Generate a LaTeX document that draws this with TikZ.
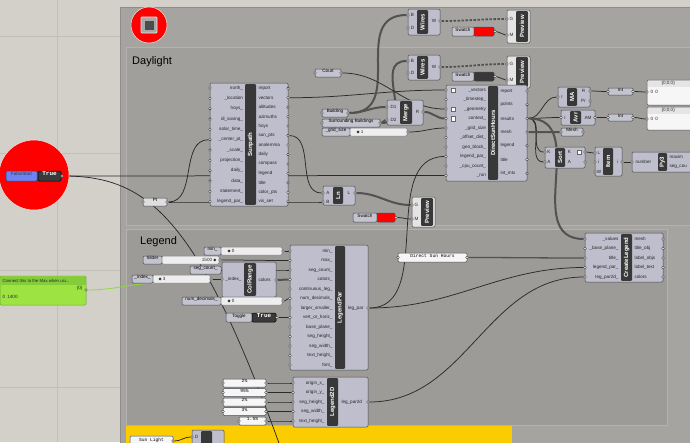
\documentclass[tikz,border=0pt]{standalone}
\usepackage{fontspec}
\setmainfont{Liberation Sans}
\newfontfamily\monof{Liberation Mono}
\newfontfamily\djv{DejaVu Sans}
\usetikzlibrary{fit}
\pgfdeclarelayer{grp}\pgfdeclarelayer{wl}
\pgfsetlayers{grp,wl,main}
\definecolor{canvas}{HTML}{D3D0CA}
\definecolor{gridc}{HTML}{C2BFB9}
\definecolor{grpouter}{HTML}{A5A4A1}
\definecolor{grpedge}{HTML}{8E8D8A}
\definecolor{grpday}{HTML}{A09F9C}
\definecolor{grpleg}{HTML}{9C9B98}
\definecolor{grpedge2}{HTML}{B3B2AE}
\definecolor{compf}{HTML}{BEBECC}
\definecolor{compd}{HTML}{4A4A52}
\definecolor{stripc}{HTML}{383838}
\definecolor{wirec}{HTML}{2A2A2A}
\definecolor{thickw}{HTML}{525252}
\definecolor{panelf}{HTML}{F6F6F6}
\definecolor{sliderf}{HTML}{EEEEEE}
\definecolor{paramf}{HTML}{C4C4CF}
\definecolor{yel}{HTML}{FBCD00}
\definecolor{grn}{HTML}{9DE342}
\definecolor{grnh}{HTML}{84CC3A}
\definecolor{grnedge}{HTML}{6AA52E}
\definecolor{fsblue}{HTML}{6E82F2}
\definecolor{prevf}{HTML}{E4E4E4}
\definecolor{togdark}{HTML}{3A3A3A}
\definecolor{gwc}{HTML}{8EDB3C}
\definecolor{btngray}{HTML}{A8A8A8}
\definecolor{ptfill}{HTML}{DEDEDE}
\tikzset{
 box/.style={inner sep=0pt, outer sep=0pt, rounded corners=1.2pt, line width=0.5pt},
 comp/.style={box, fill=compf, draw=compd},
 prev/.style={box, fill=prevf, draw=compd},
 strip/.style={inner sep=0pt, outer sep=0pt, rounded corners=1pt, fill=stripc, draw=none},
 stxt/.style={text=white, font=\fontsize{6}{6}\selectfont\bfseries, rotate=90, inner sep=0pt},
 plab/.style={font=\fontsize{4.6}{5}\selectfont, inner sep=0.3pt, text=black!85},
 port/.style={circle, fill=white, draw=black!80, line width=0.4pt, minimum size=2.6pt, inner sep=0pt},
 param/.style={box, fill=paramf, draw=compd, font=\fontsize{4.6}{5}\selectfont},
 panel/.style={box, fill=panelf, draw=compd},
 sliderbox/.style={box, fill=sliderf, draw=compd!70},
 mono/.style={font=\monof\fontsize{4.6}{5}\selectfont},
 wire/.style={draw=wirec, line width=0.75pt},
 bigwire/.style={draw=thickw, line width=2pt},
 treewire/.style={draw=thickw, line width=1.8pt, dash pattern=on 2.5pt off 1.5pt},
 gwire/.style={draw=gwc, line width=0.8pt},
 grpbox/.style={inner sep=0pt, outer sep=0pt, line width=0.6pt},
}
\newcommand\gcomp[9]{%
  \node[#1, fit={(#3,#4)(#5,#6)}] (#2) {};
  \node[strip, fit={(#7,#4+1.2)(#8,#6-1.2)}] (#2s) {};
  \node[stxt] (#2t) at (#2s.center) {#9};}
\newcommand\gport[3]{\node[port] (#1) at (#2,#3) {};}
\newcommand\glab[4]{\node[plab] (#1) at (#2,#3) {#4};}
\newcommand\dia{{\djv\fontsize{4}{4}\selectfont ◆}}
\begin{document}
\begin{tikzpicture}[x=1pt,y=-1pt]
\useasboundingbox (0,0) rectangle (690,442);
\begin{pgfonlayer}{grp}
\fill[canvas] (0,0) rectangle (690,442);
\draw[gridc, line width=0.5pt] (57.5,0) -- (57.5,442);
\foreach \gy in {36,153,270,387} \draw[gridc, line width=0.5pt] (0,\gy) -- (120,\gy);
\node[grpbox, fill=grpouter, draw=grpedge, fit={(120,7)(695,447)}] (gout) {};
\node[grpbox, fill=grpday, draw=grpedge2, fit={(126,47)(695,225)}] (gday) {};
\node[grpbox, fill=grpleg, draw=grpedge2, fit={(126,229)(667,425)}] (gleg) {};
\node[grpbox, fill=yel, fit={(126,426)(512,447)}] (gyel) {};
\end{pgfonlayer}

% top red button
\node[circle, fill=red, draw=white!85!gray, line width=0.5pt, minimum size=36pt, inner sep=0pt] (rc1) at (149,25) {};
\node[fill=btngray, draw=white!80!gray, line width=0.8pt, minimum size=16pt, inner sep=0pt, rounded corners=1pt] (rc1b) at (149,25) {};
\node[fill=black!70, minimum size=9pt, inner sep=0pt] (rc1c) at (149,25) {};
\node[anchor=base west, font=\fontsize{11}{12}\selectfont, inner sep=0pt] (tday) at (132,64) {Daylight};
\node[anchor=base west, font=\fontsize{11}{12}\selectfont, inner sep=0pt] (tleg) at (140,244) {Legend};

% Wires 1 / Preview 1
\gcomp{comp}{wi1}{408}{9}{440}{35}{417}{428}{Wires}
\gport{wi1B}{408}{15}\gport{wi1D}{408}{28}\gport{wi1W}{440}{21}
\glab{wi1Bl}{412.5}{15}{B}\glab{wi1Dl}{412.5}{28}{D}\glab{wi1Wl}{434}{21}{W}
\gcomp{prev}{pv1}{507}{10}{530}{43}{516}{528}{Preview}
\gport{pv1G}{507}{19}\gport{pv1M}{507}{35}
\glab{pv1Gl}{511.5}{19}{G}\glab{pv1Ml}{511.5}{35}{M}
\node[param, fit={(452,27)(474,36)}] (sw1) {Swatch};
\node[box, fill=red, draw=compd, fit={(474,27)(494,36)}] (sw1c) {};
\gport{sw1o}{495}{31.5}

% Wires 2 / Preview 2
\gcomp{comp}{wi2}{408}{55}{440}{80}{417}{428}{Wires}
\gport{wi2B}{408}{61}\gport{wi2D}{408}{73}\gport{wi2W}{440}{67}
\glab{wi2Bl}{412.5}{61}{B}\glab{wi2Dl}{412.5}{73}{D}\glab{wi2Wl}{434}{67}{W}
\gcomp{prev}{pv2}{507}{56}{530}{88}{516}{528}{Preview}
\gport{pv2G}{507}{64}\gport{pv2M}{507}{80}
\glab{pv2Gl}{511.5}{64}{G}\glab{pv2Ml}{511.5}{80}{M}
\node[param, fit={(452,72)(474,81)}] (sw2) {Swatch};
\node[box, fill=black!78, draw=compd, fit={(474,72)(494,81)}] (sw2c) {};
\gport{sw2o}{495}{76.5}

% params
\node[param, fit={(315,69)(341,77)}] (court) {Court};
\gport{courti}{315}{73}\gport{courto}{341}{73}
\node[param, fit={(322,109)(348,117)}] (bld) {Building};
\gport{bldi}{322}{113}\gport{bldo}{348}{113}
\node[param, fit={(322,119)(380,127)}] (sb) {Surrounding Buildings};
\gport{sbi}{322}{123}\gport{sbo}{380}{123}
\node[param, fit={(322,128)(350,136)}] (gsl) {\_grid\_size};
\node[sliderbox, fit={(350,128)(407,136)}] (gss) {};
\node[plab, anchor=west] (gst) at (356,132) {\dia\ 1};
\gport{gso}{408}{132}

% Merge
\gcomp{comp}{mrg}{387}{100}{423}{125}{400}{412}{Merge}
\gport{mD1}{387}{107}\gport{mD2}{387}{120}\gport{mR}{423}{112}
\glab{mD1l}{393.5}{107}{D1}\glab{mD2l}{393.5}{120}{D2}\glab{mRl}{417.5}{112}{R}

% Sunpath
\gcomp{comp}{sp}{210}{83}{288}{206}{245}{256}{Sunpath}
\foreach \lab [count=\i] in {north\_,\_location,hoys\_,dl\_saving\_,solar\_time\_,\_center\_pt\_,\_scale\_,projection\_,daily\_,data\_,statement\_,legend\_par\_}{%
 \pgfmathsetmacro\yy{88+10.34*(\i-1)}
 \node[plab,anchor=east] (spl\i) at (243.5,\yy) {\lab};
 \node[port] (spi\i) at (210,\yy) {};}
\foreach \lab [count=\i] in {report,vectors,altitudes,azimuths,hoys,sun\_pts,analemma,daily,compass,legend,title,color\_pts,vis\_set}{%
 \pgfmathsetmacro\yy{88.3+9.45*(\i-1)}
 \node[plab,anchor=west] (spm\i) at (258,\yy) {\lab};
 \node[port] (spo\i) at (288,\yy) {};}

% DirectSunHours
\gcomp{comp}{dsh}{446}{85}{527}{181}{488}{498}{DirectSunHours}
\foreach \lab [count=\i] in {\_vectors,\_timestep\_,\_geometry,context\_,\_grid\_size,\_offset\_dist\_,geo\_block\_,legend\_par\_,\_cpu\_count\_,\_run}{%
 \pgfmathsetmacro\yy{90+9.5*(\i-1)}
 \node[plab,anchor=east] (dsl\i) at (486.5,\yy) {\lab};
 \node[port] (dsi\i) at (446,\yy) {};}
\foreach \lab [count=\i] in {report,points,results,mesh,legend,title,int\_mtx}{%
 \pgfmathsetmacro\yy{91+13.7*(\i-1)}
 \node[plab,anchor=west] (dsm\i) at (500,\yy) {\lab};
 \node[port] (dso\i) at (527,\yy) {};}
\foreach \yy [count=\i] in {90,109,118.5}{%
 \node[fill=white, draw=black!60, line width=0.3pt, minimum size=4.5pt, inner sep=0pt] (dic\i) at (453,\yy) {};}

% Ln, Preview 3, Swatch 3, Pt
\gcomp{comp}{ln}{323}{186}{355}{205}{333}{343}{Ln}
\gport{lnA}{323}{193}\gport{lnB}{323}{202}\gport{lnL}{355}{193}
\glab{lnAl}{328}{193}{A}\glab{lnBl}{328}{202}{B}\glab{lnLl}{349}{193}{L}
\gcomp{prev}{pv3}{412}{197}{435}{227}{421}{433}{Preview}
\gport{pv3G}{412}{205}\gport{pv3M}{412}{219}
\glab{pv3Gl}{416.5}{205}{G}\glab{pv3Ml}{416.5}{219}{M}
\node[param, fit={(353,213)(377,222)}] (sw3) {Swatch};
\node[box, fill=red, draw=compd, fit={(377,213)(395,222)}] (sw3c) {};
\gport{sw3o}{396}{217.5}
\node[param, fill=ptfill, fit={(143,198)(167,206)}] (ptp) {Pt};
\gport{pti}{143}{202}\gport{pto}{167}{202}

% FalseStart
\node[circle, fill=red, draw=white!85!gray, line width=0.5pt, minimum size=70pt, inner sep=0pt] (rc2) at (34,175) {};
\node[box, fill=fsblue, draw=fsblue!50!black, fit={(6,171)(37,181)}, font=\fontsize{4.6}{5}\selectfont, text=black!80] (fsb) {FalseStart};
\node[box, fill=togdark, draw=black, fit={(38,171)(61,181)}, text=white, font=\monof\bfseries\fontsize{6}{6}\selectfont] (fst) {True};
\gport{fso}{62}{176}

% right side
\gcomp{comp}{ma}{558}{87}{590}{107}{567}{577}{MA}
\gport{maI}{558}{97}\gport{maR}{590}{91}\gport{maP}{590}{101}
\glab{maIl}{562}{97}{I}\glab{maRl}{583.5}{91}{R}\glab{maPl}{583.5}{101}{Pr}
\node[param, fit={(608,88)(633,95)}] (int1) {Int};
\gport{int1i}{608}{91.5}\gport{int1o}{633}{91.5}
\node[panel, fit={(647,80)(695,105)}] (pn1) {};
\node[fill=black!10, inner sep=0pt, fit={(647.5,80.5)(695,87)}] (pn1h) {};
\node[plab, anchor=west] (pn1ht) at (661,83.7) {\{0;0;0\}};
\node[plab, anchor=west] (pn1t) at (650,92) {0\enspace 0};
\gport{pn1i}{647}{92}
\gcomp{comp}{avr}{561}{110}{595}{125}{570}{581}{Avr}
\gport{avI}{561}{117.5}\gport{avO}{595}{117.5}
\glab{avIl}{565}{117.5}{I}\glab{avOl}{588}{117.5}{AM}
\node[param, fit={(608,114)(633,121)}] (int2) {Int};
\gport{int2i}{608}{117.5}\gport{int2o}{633}{117.5}
\node[panel, fit={(647,107)(695,130)}] (pn2) {};
\node[fill=black!10, inner sep=0pt, fit={(647.5,107.5)(695,114)}] (pn2h) {};
\node[plab, anchor=west] (pn2ht) at (661,110.7) {\{0;0;0\}};
\node[plab, anchor=west] (pn2t) at (650,119) {0\enspace 0};
\gport{pn2i}{647}{119}
\node[param, fit={(561,128)(583,136)}] (meshp) {Mesh};
\gport{meshi}{561}{132}\gport{mesho}{583}{132}
\gcomp{comp}{srt}{545}{147}{585}{168}{555}{565}{Sort}
\gport{sKi}{545}{152}\gport{sAi}{545}{162}\gport{sKo}{585}{152}\gport{sAo}{585}{162}
\glab{sKil}{549}{152}{K}\glab{sAil}{549}{162}{A}\glab{sKol}{569.5}{152}{K}\glab{sAol}{569.5}{162}{A}
\node[fill=white, draw=black!60, line width=0.3pt, minimum size=4.5pt, inner sep=0pt] (sic) at (579,152) {};
\gcomp{comp}{itm}{595}{147}{622}{176}{603}{613}{Item}
\gport{iL}{595}{153}\gport{ii}{595}{162}\gport{iW}{595}{172}\gport{io}{622}{162}
\glab{iLl}{599}{153}{L}\glab{iil}{599}{162}{i}\glab{iWl}{599}{172}{W}\glab{iol}{617.5}{162}{i}
\gcomp{comp}{py}{632}{152}{695}{172}{658}{667}{Py3}
\gport{pyi}{632}{162}
\node[plab, anchor=west] (pyl) at (635,162) {number};
\node[plab, anchor=west] (pyo1) at (669,157) {maxim};
\node[plab, anchor=west] (pyo2) at (669,167) {seg\_cou};

% Legend group: sliders and params
\node[param, fit={(204,247)(221,255)}] (minl) {min\_};
\node[sliderbox, fit={(221,247)(282,255)}] (mins) {};
\node[plab, anchor=west] (mint) at (227,251) {\dia\ 0};
\gport{mino}{283}{251}
\node[param, fit={(143,256)(162,264)}] (sll) {Slider};
\node[sliderbox, fit={(162,256)(219,264)}] (sls) {};
\node[plab, anchor=east] (slt) at (217,260) {1500 \dia};
\gport{slo}{220}{260}
\node[param, fit={(190,266)(221,274)}] (scl) {seg\_count\_};
\node[param, fit={(132,275)(153,283)}] (ixl) {\_index\_};
\node[sliderbox, fit={(153,275)(210,283)}] (ixs) {};
\node[plab, anchor=west] (ixt) at (158,279) {\dia\ 3};
\gport{ixo}{211}{279}
\gcomp{comp}{cr}{222}{262}{276}{297}{244}{256}{ColRange}
\gport{crI}{222}{279}\gport{crO}{276}{280}
\node[plab, anchor=east] (crIl) at (242,279) {\_index\_};
\node[plab, anchor=west] (crOl) at (258,280) {colors};
\node[param, fit={(182,297)(221,305)}] (ndl) {num\_decimals\_};
\node[sliderbox, fit={(221,297)(282,305)}] (nds) {};
\node[plab, anchor=west] (ndt) at (227,301) {\dia\ 0};
\gport{ndo}{283}{301}
\node[param, fit={(226,313)(252,322)}] (tgl) {Toggle};
\node[box, fill=togdark, draw=black, fit={(252,313)(276,322)}, text=white, font=\monof\bfseries\fontsize{6}{6}\selectfont] (tgt) {True};
\gport{tgo}{277}{317.5}

% LegendPar
\gcomp{comp}{lp}{290}{245}{368}{370}{335}{345}{LegendPar}
\foreach \lab [count=\i] in {min\_,max\_,seg\_count\_,colors\_,continuous\_leg\_,num\_decimals\_,larger\_smaller\_,vert\_or\_horiz\_,base\_plane\_,seg\_height\_,seg\_width\_,text\_height\_,font\_}{%
 \pgfmathsetmacro\yy{251+9.5*(\i-1)}
 \node[plab,anchor=east] (lpl\i) at (333,\yy) {\lab};
 \node[port] (lpi\i) at (290,\yy) {};}
\node[plab, anchor=west] (lpol) at (347.5,308) {leg\_par};
\gport{lpo}{368}{308}

% Direct Sun Hours panel
\node[panel, mono, fit={(398,253)(467,262)}] (dshp) {Direct Sun Hours};
\gport{dshpi}{398}{257.5}\gport{dshpo}{467}{257.5}

% CreateLegend
\gcomp{comp}{cl}{585}{233}{663}{282}{621}{632}{CreateLegend}
\foreach \lab [count=\i] in {\_values,\_base\_plane\_,title\_,legend\_par\_,leg\_par2d\_}{%
 \pgfmathsetmacro\yy{239+9.5*(\i-1)}
 \node[plab,anchor=east] (cll\i) at (619,\yy) {\lab};
 \node[port] (cli\i) at (585,\yy) {};}
\foreach \lab [count=\i] in {mesh,title\_obj,label\_objs,label\_text,colors}{%
 \pgfmathsetmacro\yy{239+9.5*(\i-1)}
 \node[plab,anchor=west] (clm\i) at (634,\yy) {\lab};
 \node[port] (clo\i) at (663,\yy) {};}

% Legend2D
\gcomp{comp}{l2}{293}{377}{368}{427}{327}{338}{Legend2D}
\foreach \lab [count=\i] in {origin\_x\_,origin\_y\_,seg\_height\_,seg\_width\_,text\_height\_}{%
 \pgfmathsetmacro\yy{383+9.5*(\i-1)}
 \node[plab,anchor=east] (l2l\i) at (325,\yy) {\lab};
 \node[port] (l2i\i) at (293,\yy) {};}
\node[plab, anchor=west] (l2ol) at (341,402) {leg\_par2d};
\gport{l2o}{368}{402}
\foreach \t/\y [count=\i] in {2\%/379,95\%/388.5,2\%/398,3\%/407.5}{%
 \node[panel, mono, fit={(223,\y)(266,\y+8)}] (pp\i) {\t};
 \node[port] (ppi\i) at (223,\y+4) {};
 \node[port] (ppo\i) at (266,\y+4) {};}
\node[panel, mono, fit={(239,417)(266,425)}] (pp5) {1.5\%};
\gport{ppi5}{239}{421}\gport{ppo5}{266}{421}

% green panel
\node[box, fill=grn, draw=grnedge, fit={(0,276)(86,305)}] (gp) {};
\node[fill=grnh, inner sep=0pt, fit={(0.5,276.5)(85.5,284.5)}] (gph) {};
\node[plab, anchor=west, font=\fontsize{4.3}{5}\selectfont] (gpt) at (2,280.5) {Connect this to the Max when usi...};
\node[plab, anchor=east] (gpt2) at (83,288.5) {\{0\}};
\node[plab, anchor=west] (gpt3) at (2,297) {0\enspace 1400};
\gport{gpo}{86}{290}
\coordinate (gend) at (160,283);

% yellow group
\node[panel, mono, fit={(130,436)(173,448)}] (slp) {Sun Light};
\gport{slpo}{173}{441}
\gcomp{comp}{yc}{192}{430}{224}{450}{201}{212}{}
\gport{ycD}{192}{437}\glab{ycDl}{196.5}{437}{D}
\coordinate (yend) at (285,460);

% wires
\begin{pgfonlayer}{wl}
\draw[wire] (fso) to[out=0,in=180] (dsi10);
\draw[wire] (fso.east) .. controls (150,176) and (200,220) .. (yend);
\draw[wire] (pto) to[out=0,in=180] (lnB);
\draw[wire] (pto) to[out=0,in=180] (spi6);
\draw[wire] (spo6) to[out=0,in=180] (lnA);
\draw[wire] (spo2) to[out=0,in=180] (dsi1);
\draw[bigwire] (lnL) to[out=0,in=180] (pv3G);
\draw[wire] (sw3o) to[out=0,in=180] (pv3M);
\draw[bigwire] (bldo) to[out=0,in=180] (mD1);
\draw[bigwire] (sbo) to[out=0,in=180] (mD2);
\draw[bigwire] (bldo) to[out=0,in=180,looseness=1.3] (wi1B);
\draw[bigwire] (sbo) to[out=0,in=180,looseness=1.3] (wi2B);
\draw[treewire] (wi1W) to[out=0,in=180] (pv1G);
\draw[treewire] (wi2W) to[out=0,in=180] (pv2G);
\draw[wire] (sw1o) to[out=0,in=180] (pv1M);
\draw[wire] (sw2o) to[out=0,in=180] (pv2M);
\draw[wire] (courto) to[out=0,in=180] (dsi3);
\draw[bigwire] (mR) to[out=0,in=180] (dsi4);
\draw[wire] (gso) to[out=0,in=180] (dsi5);
\draw[wire] (dso3) to[out=0,in=180] (maI);
\draw[wire] (dso3) to[out=0,in=180] (avI);
\draw[wire] (dso3) to[out=0,in=180] (sKi);
\draw[wire] (dso3) to[out=0,in=180] (sAi);
\draw[bigwire] (dso3) to[out=0,in=180,looseness=1.2] (cli1);
\draw[bigwire] (dso4) to[out=0,in=180] (meshi);
\draw[wire] (maR) to[out=0,in=180] (int1i);
\draw[wire] (int1o) to[out=0,in=180] (pn1i);
\draw[wire] (avO) to[out=0,in=180] (int2i);
\draw[wire] (int2o) to[out=0,in=180] (pn2i);
\draw[wire] (sKo) to[out=0,in=180] (iL);
\draw[wire] (io) to[out=0,in=180] (pyi);
\draw[wire] (mino) to[out=0,in=180] (lpi1);
\draw[wire] (slo) to[out=0,in=180] (lpi2);
\draw[wire] (scl) to[out=0,in=180] (lpi3);
\draw[wire] (ixo) to[out=0,in=180] (crI);
\draw[bigwire] (crO) to[out=0,in=180] (lpi4);
\draw[wire] (ndo) to[out=0,in=180] (lpi6);
\draw[wire] (tgo) to[out=0,in=180] (lpi8);
\draw[wire] (lpo) to[out=0,in=180] (dsi8);
\draw[wire] (lpo) to[out=0,in=180] (cli4);
\draw[draw=thickw, line width=1.3pt] (dshpo) to[out=0,in=180] (cli3);
\draw[wire] (l2o) to[out=0,in=180] (cli5);
\foreach \i in {1,...,5} \draw[wire] (ppo\i) to[out=0,in=180] (l2i\i);
\draw[gwire] (gpo) to[out=0,in=180] (gend);
\draw[wire] (slpo) to[out=0,in=180] (ycD);
\end{pgfonlayer}
\end{tikzpicture}
\end{document}
